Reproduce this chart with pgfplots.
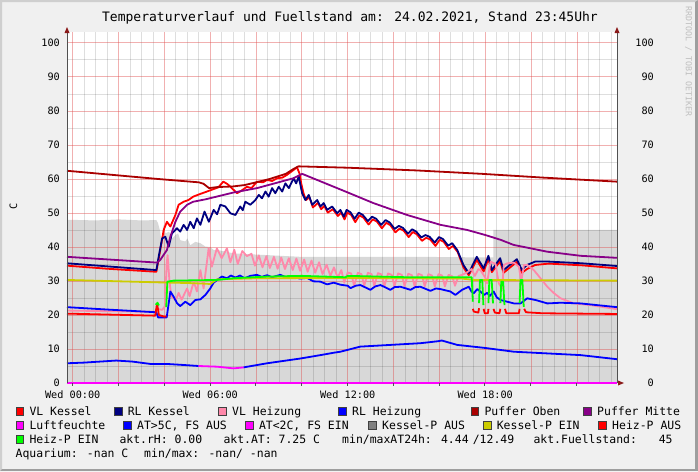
\documentclass[border=0pt]{standalone}
\usepackage{pgfplots}
\pgfplotsset{compat=1.18}
\usepackage{fontspec}
\setmainfont{DejaVu Sans Mono}
\definecolor{bg}{HTML}{F0F0F0}
\definecolor{vlk}{HTML}{FF0000}
\definecolor{rlk}{HTML}{000080}
\definecolor{vlh}{HTML}{FF88AA}
\definecolor{rlh}{HTML}{0000FF}
\definecolor{pob}{HTML}{AA0000}
\definecolor{pmi}{HTML}{880088}
\definecolor{luf}{HTML}{FF00FF}
\definecolor{atw}{HTML}{0000FF}
\definecolor{atc}{HTML}{FF00FF}
\definecolor{kpa}{HTML}{808080}
\definecolor{kpe}{HTML}{CCCC00}
\definecolor{hpa}{HTML}{FF0000}
\definecolor{hpe}{HTML}{00FF00}
\definecolor{areag}{HTML}{D8D8D8}
\definecolor{axg}{HTML}{505050}
\definecolor{arr}{HTML}{8B1A1A}
\definecolor{mgrid}{HTML}{E05050}
\newcommand{\ticksize}{\fontsize{10.2}{12}\selectfont}
\newcommand{\legsize}{\fontsize{11.46}{13}\selectfont}
\begin{document}
\begin{tikzpicture}[x=1pt,y=1pt]
\fill[bg] (0,0) rectangle (698,-471);
% frame
\fill[black!19] (0,0) -- (698,0) -- (696,-2) -- (2,-2) -- (2,-469) -- (0,-471) -- cycle;
\fill[black!38] (698,0) -- (698,-471) -- (0,-471) -- (2,-469) -- (695,-469) -- (695,-2) -- cycle;
\begin{axis}[
  at={(67pt,-383pt)}, anchor=south west,
  scale only axis, width=550pt, height=351pt,
  xmin=-0.25, xmax=23.75, ymin=0, ymax=103.2,
  clip=false,
  axis background/.style={fill=white},
  axis line style={draw=none},
  /pgf/number format/assume math mode=true,
  xtick={0,6,12,18},
  xticklabels={Wed 00:00,Wed 06:00,Wed 12:00,Wed 18:00},
  ytick={0,10,20,30,40,50,60,70,80,90,100},
  major tick length=0pt, minor tick length=0pt,
  xtick pos=bottom, ytick pos=left,
  xticklabel style={font=\ticksize, anchor=base, inner sep=0pt, yshift=-15pt},
  yticklabel style={font=\ticksize, anchor=east, inner sep=0pt, xshift=-7pt},
  line join=round,
]
% grey area
\addplot[fill=areag, draw=none] coordinates {
(-0.25,48.0) (1,47.8) (2,48.1) (3,47.8) (3.65,47.9) (3.72,47.0) (3.8,45) (3.88,41.6) (3.95,46.5) (4.05,44.0) (4.2,44.5) (4.35,42.5) (4.48,43.5) (4.6,44.0) (4.69,42.0) (4.91,41.6) (5.0,42.5) (5.13,40.5) (5.35,41.5) (5.57,41.1) (5.79,40.1) (6.0,40.0) (6.15,39.1) (6.4,39.0) (7.02,38.1) (8.48,37.6) (9.93,37.1) (12,37.1) (15,37.1) (18.35,36.9) (18.36,45.0) (23.75,45.0)} \closedcycle;
% grid (drawn over the area, under the lines)
\pgfplotsinvokeforeach{0.5,1,1.5,2.5,3,3.5,4.5,5,5.5,6.5,7,7.5,8.5,9,9.5,10.5,11,11.5,12.5,13,13.5,14.5,15,15.5,16.5,17,17.5,18.5,19,19.5,20.5,21,21.5,22.5,23,23.5}{
  \draw[black, opacity=0.13, line width=0.8pt] (axis cs:#1,0) -- (axis cs:#1,103.2);}
\pgfplotsinvokeforeach{5,15,25,35,45,55,65,75,85,95}{
  \draw[black, opacity=0.13, line width=0.8pt] (axis cs:-0.25,#1) -- (axis cs:23.75,#1);}
\pgfplotsinvokeforeach{0,2,4,6,8,10,12,14,16,18,20,22}{
  \draw[mgrid, opacity=0.45, line width=0.8pt] (axis cs:#1,0) -- (axis cs:#1,103.2);}
\pgfplotsinvokeforeach{10,20,30,40,50,60,70,80,90,100}{
  \draw[mgrid, opacity=0.45, line width=0.8pt] (axis cs:-0.25,#1) -- (axis cs:23.75,#1);}
% VL Kessel
\addplot[vlk, line width=1.8pt] coordinates {
(-0.25,34.5) (1.5,33.6) (3.65,32.7) (3.82,39.1) (3.97,45.0) (4.11,47.4) (4.26,46.0) (4.48,49.4) (4.62,52.4) (4.84,53.3) (5.05,53.8) (5.26,54.8) (5.57,55.6) (5.86,56.3) (6.14,57.0) (6.35,57.5) (6.57,59.2) (6.75,58.5) (6.88,57.7) (7.17,55.8) (7.35,56.5) (7.6,57.7) (7.8,57.3) (8.04,59.2) (8.3,59.0) (8.48,59.7) (8.7,59.4) (8.92,60.2) (9.15,60.4) (9.35,61.2) (9.63,62.6) (9.79,63.4) (9.9,61.5) (9.97,58.7) (10.07,55.8) (10.18,53.8) (10.33,54.6) (10.48,51.6) (10.7,53.0) (10.84,51.1) (10.98,52.1) (11.13,50.1) (11.35,51.1) (11.57,49.1) (11.71,50.1) (11.86,48.1) (11.98,50.1) (12.15,49.4) (12.33,47.3) (12.51,49.3) (12.69,48.6) (12.91,46.6) (13.09,48.1) (13.27,47.5) (13.49,45.5) (13.68,47.1) (13.86,46.4) (14.08,44.3) (14.26,45.4) (14.44,44.8) (14.66,42.9) (14.84,44.4) (15.02,43.7) (15.24,41.8) (15.42,42.7) (15.6,42.2) (15.83,40.3) (16.01,42.1) (16.19,41.5) (16.41,39.4) (16.59,40.3) (16.8,38.5) (17.05,34.0) (17.28,31.7) (17.63,36.2) (17.93,32.8) (18.14,36.5) (18.29,32.6) (18.65,35.8) (18.8,32.4) (19.38,35.6) (19.6,32.4) (19.82,33.5) (20.18,34.7) (20.76,35.1) (22.22,34.6) (23.75,33.7)};
% RL Kessel
\addplot[rlk, line width=1.8pt] coordinates {
(-0.25,35.2) (1.5,34.3) (3.65,33.2) (3.75,37.1) (3.9,42.5) (4.04,43.0) (4.19,40.1) (4.33,44.0) (4.55,45.5) (4.69,44.5) (4.84,46.5) (4.99,45.0) (5.13,47.4) (5.28,45.5) (5.42,48.4) (5.57,46.5) (5.75,50.4) (5.94,47.4) (6.15,50.9) (6.3,49.6) (6.44,52.4) (6.66,51.9) (6.88,49.9) (7.1,49.4) (7.31,51.9) (7.42,50.8) (7.53,53.3) (7.75,52.4) (7.97,53.8) (8.12,55.3) (8.26,54.3) (8.41,56.3) (8.55,54.8) (8.7,57.3) (8.84,55.8) (8.99,57.7) (9.14,56.3) (9.28,58.7) (9.43,57.3) (9.64,60.2) (9.75,58.7) (9.86,60.7) (10.01,55.8) (10.15,53.8) (10.3,55.3) (10.45,52.4) (10.67,53.8) (10.81,51.9) (10.95,52.9) (11.1,50.9) (11.32,51.9) (11.54,49.9) (11.68,50.9) (11.83,48.9) (11.95,50.9) (12.12,50.2) (12.3,48.3) (12.48,50.1) (12.66,49.4) (12.88,47.6) (13.06,48.9) (13.24,48.3) (13.46,46.5) (13.65,47.9) (13.83,47.2) (14.05,45.3) (14.23,46.2) (14.41,45.6) (14.63,43.9) (14.81,45.2) (14.99,44.5) (15.21,42.8) (15.39,43.5) (15.57,43.0) (15.8,41.3) (15.98,42.9) (16.16,42.3) (16.38,40.4) (16.56,41.1) (16.78,39.1) (17.05,34.7) (17.28,32.3) (17.63,37.1) (17.93,33.7) (18.14,37.4) (18.29,33.2) (18.65,36.7) (18.8,33.2) (19.38,36.4) (19.6,33.2) (19.82,34.7) (20.18,35.7) (20.76,35.7) (22.22,35.2) (23.75,34.4)};
% VL Heizung
\addplot[vlh, line width=1.8pt] coordinates {
(-0.25,21.3) (3.6,20.9) (3.7,21.8) (3.9,21.5) (4.02,22.5) (4.1,35) (4.14,37.6) (4.22,30) (4.3,25.4) (4.5,24.4) (4.62,26.5) (4.75,24.5) (4.99,27.8) (5.1,25.5) (5.28,29.8) (5.42,26.9) (5.57,33.2) (5.71,27.8) (5.93,39.6) (6.07,34.2) (6.29,39.6) (6.5,36.7) (6.73,39.6) (6.88,35.5) (7.05,39.2) (7.2,35.0) (7.4,38.8) (7.6,37.3) (7.8,38.0) (7.95,34.5) (8.12,37.5) (8.28,34.0) (8.45,37.3) (8.6,33.8) (8.78,37.1) (8.94,33.6) (9.1,36.9) (9.26,33.5) (9.43,36.7) (9.6,33.2) (9.76,36.6) (9.92,33.0) (10.1,36.3) (10.25,32.7) (10.42,36.0) (10.58,32.4) (10.75,35.5) (10.9,32.0) (11.08,34.8) (11.24,31.5) (11.4,34.0) (11.56,31.0) (11.72,33.2) (11.85,29.5) (12.0,32.5) (12.15,32.2) (12.28,28.6) (12.44,32.4) (12.6,32.0) (12.72,28.6) (12.88,32.4) (13.04,32.0) (13.16,28.6) (13.32,32.3) (13.48,31.9) (13.6,28.5) (13.76,32.2) (13.92,31.8) (14.04,28.5) (14.2,32.2) (14.36,31.8) (14.48,28.5) (14.64,32.1) (14.8,31.7) (14.92,28.4) (15.08,32.1) (15.24,31.7) (15.36,28.4) (15.52,32.0) (15.68,31.6) (15.8,28.4) (15.96,32.0) (16.12,31.6) (16.24,28.4) (16.4,31.8) (16.56,31.4) (16.68,28.6) (16.84,31.5) (17.0,31.8) (17.2,32.5) (17.4,33.5) (17.55,31.5) (17.7,33.5) (17.79,33.2) (18.0,31.0) (18.08,29.3) (18.23,35.7) (18.45,35.0) (18.59,29.3) (18.74,27.8) (18.81,34.7) (18.96,35.2) (19.25,35.4) (19.47,34.2) (19.57,29.8) (19.69,34.7) (19.83,34.7) (20.12,33.2) (20.41,30.8) (20.71,28.3) (21.0,26.4) (21.29,24.9) (21.87,23.4) (22.6,22.9) (23.75,21.7)};
% RL Heizung
\addplot[rlh, line width=1.8pt] coordinates {
(-0.25,22.3) (1.5,21.6) (3.65,20.8) (3.72,19.3) (4.1,19.3) (4.2,24) (4.26,26.9) (4.4,25.4) (4.55,23.5) (4.69,22.6) (4.91,23.9) (5.13,22.9) (5.35,24.4) (5.57,24.6) (5.79,25.9) (6.0,27.8) (6.15,29.5) (6.3,30.3) (6.51,31.3) (6.73,30.8) (6.9,31.6) (7.1,31.0) (7.3,31.6) (7.5,30.8) (7.75,31.5) (8.04,31.8) (8.25,31.2) (8.48,31.7) (8.7,31.1) (9.06,31.8) (9.3,31.1) (9.64,31.4) (9.9,30.7) (10.23,30.9) (10.5,29.9) (10.81,29.8) (11.1,29.0) (11.39,29.5) (11.68,28.9) (12.0,28.6) (12.12,27.9) (12.35,28.6) (12.55,28.8) (12.99,27.4) (13.2,28.4) (13.43,28.8) (13.86,27.4) (14.05,28.2) (14.3,28.3) (14.74,27.4) (14.95,28.2) (15.17,28.3) (15.61,27.1) (15.85,27.8) (16.05,27.6) (16.48,26.9) (16.7,25.9) (16.99,27.4) (17.28,28.3) (17.4,26.9) (17.5,26.4) (17.65,27.6) (17.79,26.9) (17.95,25.9) (18.08,26.5) (18.2,25.6) (18.37,26.9) (18.5,25.2) (18.67,24.4) (18.96,23.9) (19.25,23.4) (19.54,23.4) (19.83,24.9) (20.2,24.4) (20.71,23.4) (21.29,23.6) (22.16,23.4) (23.75,22.3)};
% Puffer Oben
\addplot[pob, line width=1.8pt] coordinates {
(-0.25,62.4) (3.7,60.0) (5.5,59.0) (5.7,58.6) (5.95,57.3) (6.3,57.6) (7.0,57.8) (7.5,58.2) (8.0,59.0) (8.6,60.0) (9.3,61.5) (9.65,63.0) (9.85,63.7) (12.0,63.3) (15.0,62.5) (17.85,61.5) (20.5,60.4) (23.75,59.2)};
% Puffer Mitte
\addplot[pmi, line width=1.8pt] coordinates {
(-0.25,37.1) (3.68,35.4) (3.82,36.2) (4.11,39.1) (4.26,43.0) (4.48,47.4) (4.69,50.4) (4.99,52.4) (5.26,53.3) (5.79,54.0) (7.01,56.0) (8.04,57.3) (8.92,58.9) (9.63,60.2) (10.01,61.5) (11.9,56.3) (13.12,52.9) (14.59,49.4) (16.05,46.5) (17.21,45.0) (18.01,43.5) (18.67,42.1) (19.24,40.6) (20.71,38.6) (22.16,37.4) (23.75,36.8)};
% Luftfeuchte
\addplot[luf, line width=1.8pt] coordinates {(-0.25,0) (23.75,0)};
% Aussentemperatur
\addplot[atw, line width=1.8pt] coordinates {
(-0.25,5.8) (0.5,6.0) (1.2,6.3) (1.9,6.6) (2.6,6.3) (3.4,5.6) (4.11,5.6) (4.84,5.3) (5.49,5.0)};
\addplot[atc, line width=1.8pt] coordinates {
(5.49,5.0) (6.29,4.8) (7.02,4.3) (7.46,4.6)};
\addplot[atw, line width=1.8pt] coordinates {
(7.46,4.6) (8.48,5.8) (9.93,7.2) (10.81,8.2) (11.39,8.9) (11.68,9.2) (12.55,10.7) (13.86,11.2) (15.17,11.7) (15.96,12.3) (16.1,12.5) (16.78,11.2) (18.0,10.3) (19.25,9.2) (20.71,8.7) (22.16,8.2) (23.75,7.0)};
% Kessel-P EIN
\addplot[kpe, line width=1.8pt] coordinates {
(-0.25,30.3) (3.7,29.6) (5.0,29.4) (5.8,29.2) (6.0,29.1) (6.3,30.5) (8,30.8) (12,30.9) (17,30.7) (17.5,30.3) (23.75,30.1)};
% Heiz-P AUS
\addplot[hpa, line width=1.8pt] coordinates {(-0.25,20.4) (3.6,19.8) (3.68,23.4) (3.76,20.0) (4.0,19.5) (4.09,19.6)};
\addplot[hpa, line width=1.8pt] coordinates {(17.46,21.8) (17.5,21.0) (17.7,20.7) (17.73,22)};
\addplot[hpa, line width=1.8pt] coordinates {(17.93,21.8) (17.98,20.5) (18.12,20.5) (18.14,21.8)};
\addplot[hpa, line width=1.8pt] coordinates {(18.36,21.8) (18.42,20.7) (18.62,20.5) (18.66,21.8)};
\addplot[hpa, line width=1.8pt] coordinates {(18.86,21.8) (18.92,20.5) (19.47,20.5) (19.5,21.8)};
\addplot[hpa, line width=1.8pt] coordinates {(19.7,21.8) (19.78,20.8) (20.5,20.5) (23.75,20.3)};
% Heiz-P EIN
\addplot[hpe, line width=1.8pt] coordinates {(3.62,23.0) (3.7,23.6) (3.76,22.8)};
\addplot[hpe, line width=1.8pt] coordinates {(4.08,22.3) (4.13,29.8) (4.4,30.1) (6.3,30.3) (7.02,30.8) (8.48,31.3) (10.0,31.5) (11.9,31.1) (12.0,31.5) (14.59,31.1) (17.41,31.1) (17.46,23.9)};
\addplot[hpe, line width=1.8pt] coordinates {(17.73,23.5) (17.77,30.3) (17.87,30.3) (17.92,22.9)};
\addplot[hpe, line width=1.8pt] coordinates {(18.14,23.5) (18.18,30.3) (18.28,30.3) (18.34,23.4)};
\addplot[hpe, line width=1.8pt] coordinates {(18.66,23.5) (18.7,29.8) (18.78,29.8) (18.84,22.9)};
\addplot[hpe, line width=1.8pt] coordinates {(19.5,23.5) (19.54,30.3) (19.62,30.3) (19.68,22.4)};
% right tick labels
\pgfplotsinvokeforeach{0,10,20,30,40,50,60,70,80,90,100}{
  \node[anchor=east, font=\ticksize, inner sep=0pt] at ([xshift=37pt]axis cs:23.75,#1) {#1};
}
\end{axis}
% small ticks
\foreach \t in {0,2,...,22} {\draw[axg, line width=0.6pt] (72.5+22.9*\t,-383) -- (72.5+22.9*\t,-386);}
% axis lines and arrows
\draw[axg, line width=1pt] (67,-383) -- (67,-32);
\draw[axg, line width=1pt] (617,-383) -- (617,-32);
\fill[arr] (67,-27) -- (64.5,-33) -- (69.5,-33) -- cycle;
\fill[arr] (617,-27) -- (614.5,-33) -- (619.5,-33) -- cycle;
\fill[arr] (624,-383) -- (618,-380.5) -- (618,-385.5) -- cycle;
% title
\node[anchor=base, font=\fontsize{13}{15}\selectfont, inner sep=0pt] at (350,-21.7) {Temperaturverlauf und Fuellstand am: 24.02.2021, Stand 23:45Uhr};
% watermark
\node[rotate=-90, font=\fontsize{8.3}{10}\selectfont, text=black!25, inner sep=0pt] at (688.5,-61.7) {RRDTOOL / TOBI OETIKER};
% y label
\node[rotate=90, font=\fontsize{10.2}{12}\selectfont, inner sep=0pt] at (13.5,-206) {C};
% legend
\tikzset{lsq/.style={draw=black!75, line width=0.5pt}, ltx/.style={anchor=base west, inner sep=0pt, font=\legsize}}
\newcommand{\lsq}[3]{\filldraw[lsq, fill=#1] (#2,#3+0.3) rectangle (#2+7.7,#3+8);}
% row 1
\lsq{vlk}{16}{-415.7}\node[ltx] at (29.3,-415.7) {VL Kessel};
\lsq{rlk}{114.3}{-415.7}\node[ltx] at (127.6,-415.7) {RL Kessel};
\lsq{vlh}{218.7}{-415.7}\node[ltx] at (232,-415.7) {VL Heizung};
\lsq{rlh}{338.7}{-415.7}\node[ltx] at (352,-415.7) {RL Heizung};
\lsq{pob}{471}{-415.7}\node[ltx] at (484.3,-415.7) {Puffer Oben};
\lsq{pmi}{583.7}{-415.7}\node[ltx] at (597,-415.7) {Puffer Mitte};
% row 2
\lsq{luf}{16}{-429.5}\node[ltx] at (29.3,-429.5) {Luftfeuchte};
\lsq{atw}{123.7}{-429.5}\node[ltx] at (137,-429.5) {AT>5C, FS AUS};
\lsq{atc}{245.5}{-429.5}\node[ltx] at (258.8,-429.5) {AT<2C, FS EIN};
\lsq{kpa}{368.7}{-429.5}\node[ltx] at (382,-429.5) {Kessel-P AUS};
\lsq{kpe}{483.3}{-429.5}\node[ltx] at (496.6,-429.5) {Kessel-P EIN};
\lsq{hpa}{598.7}{-429.5}\node[ltx] at (612,-429.5) {Heiz-P AUS};
% row 3
\lsq{hpe}{16}{-443.3}\node[ltx] at (29.3,-443.3) {Heiz-P EIN};
\node[ltx] at (119.3,-443.3) {akt.rH: 0.00};
\node[ltx] at (223.3,-443.3) {akt.AT: 7.25 C};
\node[ltx] at (342,-443.3) {min/maxAT24h: 4.44};
\node[ltx] at (472.6,-443.3) {/12.49};
\node[ltx] at (533.3,-443.3) {akt.Fuellstand:};
\node[ltx] at (658.6,-443.3) {45};
% row 4
\node[ltx] at (15.5,-457.2) {Aquarium: -nan C};
\node[ltx] at (144,-457.2) {min/max: -nan/ -nan};
\end{tikzpicture}
\end{document}
